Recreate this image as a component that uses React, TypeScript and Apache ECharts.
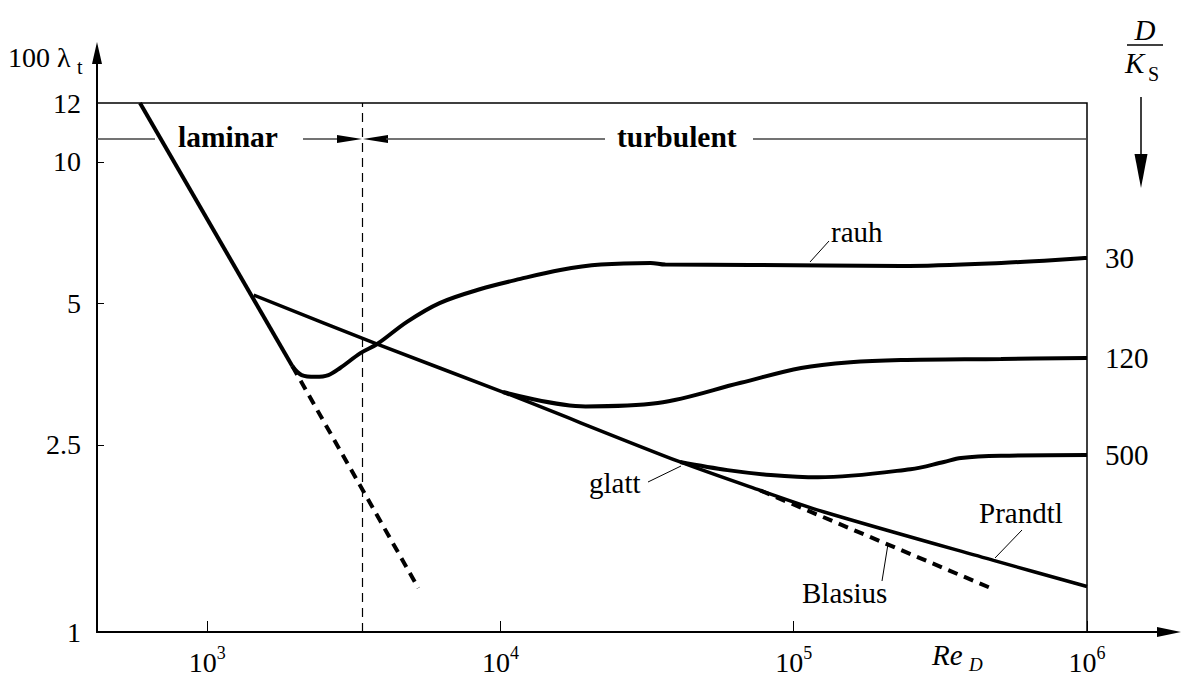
import React, { useEffect, useRef } from 'react';
import * as echarts from 'echarts';

const FONT = 'Liberation Serif';

// ---- axes (Re_D on x, 100·λ_t on y, both logarithmic) ----
const xMinRe = 421;
const xMaxRe = 1000000;
const xTickExponents = [3, 4, 5, 6];
const yMinVal = 1;
const yTopVal = 13.35; // value at the top of the frame
const yTickValues = [1, 2.5, 5, 10];
const yTickLabels = ['1', '2.5', '5', '10'];
const yTopLabel = '12';
const criticalRe = 3400;

// ---- curves ----
const laminarRe = [590, 1950];
const laminarLam = [13.35, 3.68];

const laminarExtRe = [1950, 5250];
const laminarExtLam = [3.68, 1.24];

const rough30Re = [1950, 2100, 2340, 2590, 2840, 3330, 3800, 4800, 6200, 8500, 11700, 16000, 22000, 32500, 36500, 71000, 232000, 510000, 1000000];
const rough30Lam = [3.68, 3.52, 3.49, 3.52, 3.645, 3.92, 4.10, 4.57, 5.01, 5.36, 5.64, 5.89, 6.05, 6.10, 6.05, 6.04, 6.01, 6.10, 6.25];

const prandtlRe = [1440, 3780, 10200, 41000, 77000, 127000, 480000, 1000000];
const prandtlLam = [5.21, 4.10, 3.24, 2.30, 2.00, 1.80, 1.42, 1.25];

const rough120Re = [10200, 19500, 34400, 66000, 106000, 156000, 232000, 509000, 1000000];
const rough120Lam = [3.24, 3.02, 3.07, 3.39, 3.645, 3.75, 3.79, 3.81, 3.83];

const rough500Re = [41000, 59500, 83500, 121000, 250000, 325000, 372000, 509000, 1000000];
const rough500Lam = [2.30, 2.21, 2.158, 2.134, 2.22, 2.30, 2.345, 2.37, 2.38];

const blasiusRe = [77000, 470000];
const blasiusLam = [2.00, 1.24];

const roughLabels = ['30', '120', '500'];

const L = (v: number) => Math.log10(v);
const pts = (xs: number[], ys: number[]) => xs.map((x, i) => [L(x), L(ys[i])]);

const black = '#000';
const FS = 29;

function makeOption(): any {
  const yTopLog = L(yTopVal);
  const yTickLogs = yTickValues.map(L);
  const base = {
    type: 'line',
    symbol: 'none',
    showSymbol: false,
    silent: true,
    emphasis: { disabled: true },
  };
  const endLbl = (t: string) => ({
    show: true,
    formatter: t,
    distance: 18,
    fontSize: FS,
    fontFamily: FONT,
    color: black,
  });
  const txt = (text: string, x: number, y: number, extra: any = {}) => ({
    type: 'text',
    x,
    y,
    z: 10,
    style: {
      text,
      fontSize: FS,
      fontFamily: FONT,
      fill: black,
      align: 'left',
      verticalAlign: 'middle',
      ...extra,
    },
  });
  const seg = (x1: number, y1: number, x2: number, y2: number, w = 1, c = black) => ({
    type: 'line',
    z: 5,
    shape: { x1, y1, x2, y2 },
    style: { stroke: c, lineWidth: w },
  });
  const tri = (points: number[][], c = black) => ({
    type: 'polygon',
    z: 5,
    shape: { points },
    style: { fill: c },
  });

  return {
    animation: false,
    backgroundColor: '#fff',
    grid: {
      left: 97,
      top: 103,
      width: 990,
      height: 529,
      show: true,
      borderColor: black,
      borderWidth: 1.5,
      backgroundColor: 'transparent',
    },
    xAxis: {
      type: 'value',
      min: L(xMinRe),
      max: L(xMaxRe),
      axisLine: { show: true, onZero: false, lineStyle: { color: black, width: 2 } },
      axisTick: {
        show: true,
        inside: true,
        length: 11,
        customValues: xTickExponents,
        lineStyle: { color: black, width: 1 },
      },
      axisLabel: {
        show: true,
        margin: 12,
        customValues: xTickExponents,
        fontFamily: FONT,
        fontSize: 28,
        color: black,
        formatter: (v: number) => `{m|10}{s|${Math.round(v)}}`,
        rich: {
          m: { fontSize: 28, fontFamily: FONT, color: black, verticalAlign: 'bottom', lineHeight: 32 },
          s: { fontSize: 18, fontFamily: FONT, color: black, verticalAlign: 'top', lineHeight: 16 },
        },
      },
      splitLine: { show: false },
    },
    yAxis: {
      type: 'value',
      min: L(yMinVal),
      max: yTopLog,
      axisLine: { show: true, onZero: false, lineStyle: { color: black, width: 2 } },
      axisTick: {
        show: true,
        inside: true,
        length: 7,
        customValues: yTickLogs,
        lineStyle: { color: black, width: 1 },
      },
      axisLabel: {
        show: true,
        margin: 16,
        customValues: [...yTickLogs, yTopLog],
        fontSize: 28,
        fontFamily: FONT,
        color: black,
        formatter: (v: number) => {
          if (Math.abs(v - yTopLog) < 1e-6) return yTopLabel;
          const i = yTickLogs.findIndex((t) => Math.abs(t - v) < 1e-6);
          return i >= 0 ? yTickLabels[i] : '';
        },
      },
      splitLine: { show: false },
    },
    series: [
      {
        ...base,
        name: 'laminar',
        data: pts(laminarRe, laminarLam),
        lineStyle: { color: black, width: 4 },
      },
      {
        ...base,
        name: 'laminar (Verlängerung)',
        data: pts(laminarExtRe, laminarExtLam),
        lineStyle: { color: black, width: 4, type: [10, 7] },
        markLine: {
          silent: true,
          symbol: 'none',
          label: { show: false },
          lineStyle: { color: black, width: 1.2, type: [9, 6] },
          data: [{ xAxis: L(criticalRe) }],
        },
      },
      {
        ...base,
        name: 'rauh D/Ks=30',
        data: pts(rough30Re, rough30Lam),
        smooth: 0.35,
        lineStyle: { color: black, width: 4 },
        endLabel: endLbl(roughLabels[0]),
      },
      {
        ...base,
        name: 'Prandtl',
        data: pts(prandtlRe, prandtlLam),
        smooth: 0.3,
        lineStyle: { color: black, width: 3.5 },
      },
      {
        ...base,
        name: 'D/Ks=120',
        data: pts(rough120Re, rough120Lam),
        smooth: 0.35,
        lineStyle: { color: black, width: 4 },
        endLabel: endLbl(roughLabels[1]),
      },
      {
        ...base,
        name: 'D/Ks=500',
        data: pts(rough500Re, rough500Lam),
        smooth: 0.35,
        lineStyle: { color: black, width: 4 },
        endLabel: endLbl(roughLabels[2]),
      },
      {
        ...base,
        name: 'Blasius',
        data: pts(blasiusRe, blasiusLam),
        lineStyle: { color: black, width: 4, type: [10, 7] },
      },
    ],
    graphic: [
      // axis extensions with arrow heads
      seg(97, 104, 97, 60, 2),
      tri([[92, 64], [102, 64], [97, 42]]),
      seg(1086, 632, 1160, 632, 2),
      tri([[1157, 627], [1157, 637], [1181, 632]]),
      // laminar / turbulent band
      seg(97, 139, 155, 139, 1.5, '#444'),
      seg(303, 139, 340, 139, 1.5, '#444'),
      tri([[337, 135], [337, 143], [362, 139]]),
      tri([[388, 135], [388, 143], [363, 139]]),
      seg(386, 139, 605, 139, 1.5, '#444'),
      seg(753, 139, 1087, 139, 1.5, '#444'),
      txt('laminar', 178, 137, { fontWeight: 'bold', fontSize: 29.5 }),
      txt('turbulent', 617, 137, { fontWeight: 'bold', fontSize: 29.5 }),
      // y axis title
      txt('100 λ', 8, 57, { fontSize: 28 }),
      txt('t', 77, 67, { fontSize: 20 }),
      // D / K_S
      txt('D', 1145, 30, { fontStyle: 'italic', align: 'center' }),
      seg(1127, 45, 1163, 45, 1.5),
      txt('K', 1125, 63, { fontStyle: 'italic' }),
      txt('S', 1148, 74, { fontSize: 20 }),
      seg(1141, 97, 1141, 160, 1.5),
      tri([[1134.5, 154], [1147.5, 154], [1141, 188]]),
      // Re_D
      txt('Re', 932, 655, { fontStyle: 'italic' }),
      txt('D', 969, 664, { fontStyle: 'italic', fontSize: 19 }),
      // curve annotations
      txt('rauh', 831, 232),
      seg(829, 241, 810, 262),
      txt('glatt', 589, 483),
      seg(648, 482, 681, 466),
      txt('Prandtl', 979, 513),
      seg(1022, 530, 995, 558),
      txt('Blasius', 802, 593),
      seg(882, 581, 888, 544),
    ],
  };
}

export default function App() {
  const ref = useRef<HTMLDivElement>(null);
  useEffect(() => {
    if (!ref.current) return;
    const chart = echarts.init(ref.current, undefined, { renderer: 'svg' });
    chart.setOption(makeOption());
    return () => chart.dispose();
  }, []);
  return (
    <div
      ref={ref}
      style={{ position: 'fixed', left: 0, top: 0, width: 1191, height: 677, background: '#fff' }}
    />
  );
}
